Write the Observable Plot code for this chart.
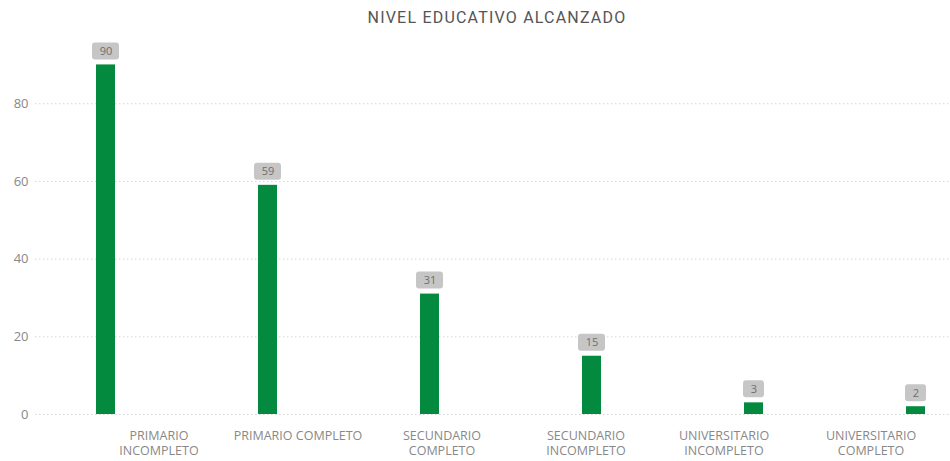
<!DOCTYPE html>
<html>
<head>
<meta charset="utf-8">
<script src="https://cdn.jsdelivr.net/npm/d3@7"></script>
<script src="https://cdn.jsdelivr.net/npm/@observablehq/plot@0.6"></script>
<style>
  body { margin: 0; background: #fff; width: 950px; height: 461px; overflow: hidden; }
  #title { height: 36px; line-height: 36px; text-align: center; padding-left: 44px; box-sizing: border-box;
           font-family: Roboto, "Open Sans", sans-serif; font-size: 16px; color: #555; letter-spacing: 1.2px; }
</style>
</head>
<body>
<div id="title">NIVEL EDUCATIVO ALCANZADO</div>
<div id="chart"></div>
<script>
const categories = ["PRIMARIO INCOMPLETO", "PRIMARIO COMPLETO", "SECUNDARIO COMPLETO", "SECUNDARIO INCOMPLETO", "UNIVERSITARIO INCOMPLETO", "UNIVERSITARIO COMPLETO"];
const values = [90, 59, 31, 15, 3, 2];
const tickLabels = ["PRIMARIO\nINCOMPLETO", "PRIMARIO COMPLETO", "SECUNDARIO\nCOMPLETO", "SECUNDARIO\nINCOMPLETO", "UNIVERSITARIO\nINCOMPLETO", "UNIVERSITARIO\nCOMPLETO"];
const yTicks = [0, 20, 40, 60, 80];

const data = categories.map((c, i) => ({category: c, value: values[i]}));
const labelOf = new Map(categories.map((c, i) => [c, tickLabels[i]]));
const twoDigit = data.filter(d => String(d.value).length > 1);
const oneDigit = data.filter(d => String(d.value).length <= 1);

const green = "#048a3e";
// horizontal nudge of each category label, as in the original layout
const labelNudge = [53, 30, 12, -6, -30, -45];

const chart = Plot.plot({
  width: 950,
  height: 425,
  marginLeft: 35,
  marginRight: 0,
  marginTop: 9,
  marginBottom: 47,
  style: {fontFamily: "'Open Sans', sans-serif", fontSize: "12px", color: "#888", background: "#fff"},
  x: {domain: categories, paddingInner: 0.883, paddingOuter: 0.2586, align: 0.708, label: null},
  y: {domain: [0, 95], label: null},
  marks: [
    Plot.gridY(yTicks, {stroke: "#d6d6d6", strokeOpacity: 1, strokeDasharray: "1.5,2.5"}),
    Plot.axisY({ticks: yTicks, tickSize: 0, tickPadding: 7, label: null, fill: "#888", fontSize: 13}),
    ...categories.map((c, i) => Plot.axisX([c], {tickSize: 0, tickPadding: 14, tickFormat: d => labelOf.get(d), lineHeight: 1.25, fill: "#888", fontSize: 12.5, label: null, dx: labelNudge[i]})),
    Plot.barY(data, {x: "category", y: "value", fill: green}),
    Plot.rect(twoDigit, {x: "category", y1: "value", y2: "value", insetTop: -22, insetBottom: 5, insetLeft: -4, insetRight: -4, fill: "#c6c6c6", rx: 3}),
    Plot.rect(oneDigit, {x: "category", y1: "value", y2: "value", insetTop: -22, insetBottom: 5, insetLeft: -1, insetRight: -1, fill: "#c6c6c6", rx: 3}),
    Plot.text(data, {x: "category", y: "value", text: d => String(d.value), dy: -13.5, fill: "#6e6e6e", fontSize: 11})
  ]
});
document.getElementById("chart").appendChild(chart);
</script>
</body>
</html>
